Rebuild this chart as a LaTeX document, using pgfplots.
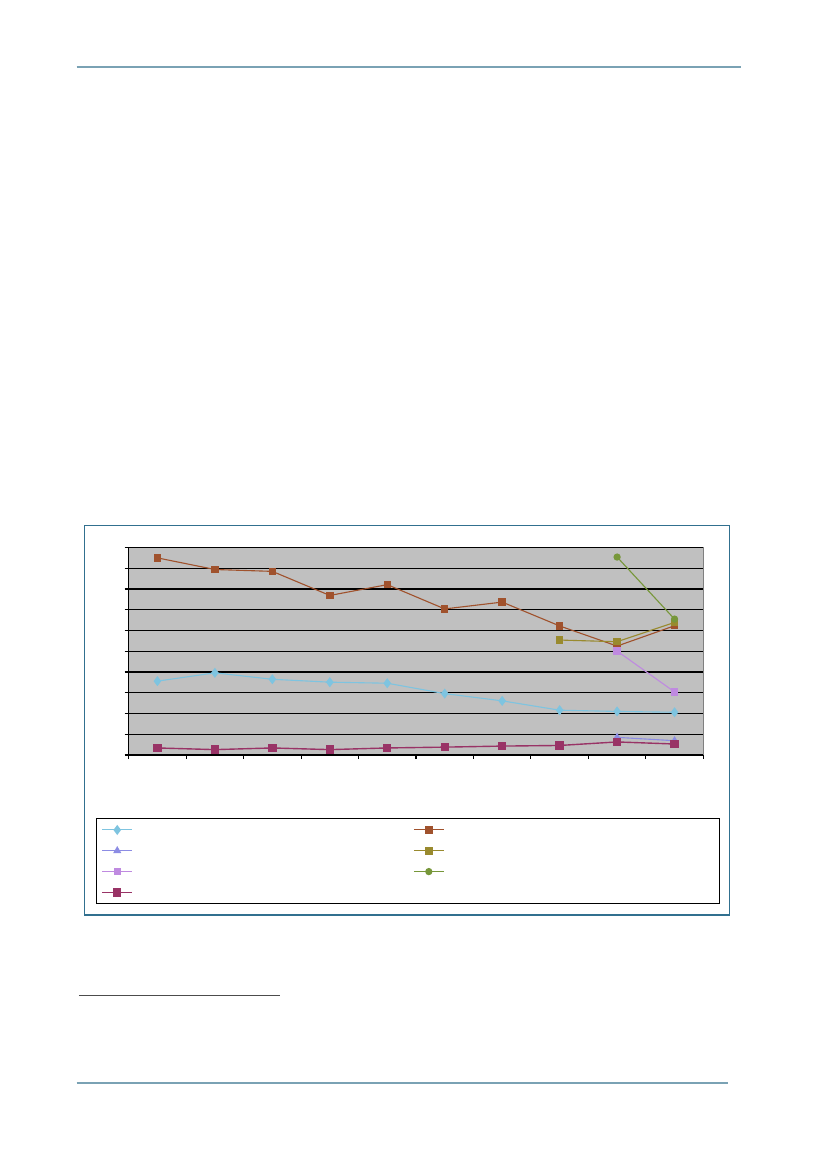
\documentclass[border=0pt]{standalone}
\usepackage{pgfplots}
\pgfplotsset{compat=1.18}
\definecolor{frameblue}{HTML}{31708F}
\definecolor{rulecol}{HTML}{7AA2B4}
\definecolor{plotgray}{HTML}{C0C0C0}
\definecolor{sblue}{HTML}{7EC4E0}
\definecolor{stri}{HTML}{8C8CE4}
\definecolor{slav}{HTML}{BF8AE0}
\definecolor{smaroon}{HTML}{993366}
\definecolor{sbrown}{HTML}{A0522D}
\definecolor{solive}{HTML}{998A2E}
\definecolor{sgreen}{HTML}{77973A}

\begin{document}
\begin{tikzpicture}[x=0.72pt,y=-0.72pt]
\useasboundingbox (0,0) rectangle (827,1169);
\fill[white] (0,0) rectangle (827,1169);
% page rules
\draw[rulecol, line width=1.3pt] (76.6,66.7) -- (741,66.7);
\draw[rulecol, line width=1.3pt] (76.6,1083) -- (728,1083);
\draw[black!70, line width=0.7pt] (78.8,995.7) -- (280,995.7);
% chart frame
\draw[frameblue, line width=0.8pt] (84.3,525.3) rectangle (729.7,915);
\coordinate (axSW) at (128.7,755);

\begin{axis}[
  at={(axSW)}, anchor=south west,
  scale only axis, width=413.7pt, height=149.4pt,
  xmin=0.5, xmax=10.5, ymin=0, ymax=10,
  axis x line*=bottom, axis y line*=left,
  axis line style={black, line width=0.75pt},
  axis background/.style={fill=plotgray, draw=gray, line width=0.75pt},
  xtick={0.5,1.5,...,10.5}, xticklabels={},
  ytick={0,1,...,10}, yticklabels={},
  tick align=outside, major tick length=3pt,
  tick style={black, line width=0.75pt},
  ymajorgrids, major grid style={black, line width=0.9pt},
  legend columns=2,
  legend cell align=left,
  legend style={at={(-0.0564,-0.305)}, anchor=north west,
    draw=black, line width=0.75pt, fill=white,
    inner xsep=3.4pt, inner ysep=0.5pt,
    nodes={inner sep=0pt, text height=7.5pt, text depth=7.5pt},
    row sep=0pt, column sep=0pt},
  legend image code/.code={\draw[mark repeat=2,mark phase=2,#1]
    plot coordinates {(0cm,0cm) (0.38cm,0cm) (0.76cm,0cm)};},
]

\addplot[color=sblue, line width=0.8pt, mark=diamond*, mark size=3pt] coordinates {
  (1,3.56) (2,3.96) (3,3.65) (4,3.51) (5,3.46)
  (6,2.96) (7,2.61) (8,2.16) (9,2.10) (10,2.06)
};
\addlegendentry{\hspace*{201.8pt}}

\addplot[color=sbrown, line width=0.8pt, mark=square*, mark size=2.3pt] coordinates {
  (1,9.50) (2,8.94) (3,8.85) (4,7.69) (5,8.21)
  (6,7.04) (7,7.37) (8,6.22) (9,5.25) (10,6.23)
};
\addlegendentry{\hspace*{194.7pt}}

\addplot[color=stri, line width=0.8pt, mark=triangle*, mark size=2.6pt] coordinates {
  (9,0.85) (10,0.69)
};
\addlegendentry{\hspace*{201.8pt}}

\addplot[color=solive, line width=0.8pt, mark=square*, mark size=2.3pt] coordinates {
  (8,5.54) (9,5.46) (10,6.39)
};
\addlegendentry{\hspace*{194.7pt}}

\addplot[color=slav, line width=0.8pt, mark=square*, mark size=2.3pt] coordinates {
  (9,5.01) (10,3.04)
};
\addlegendentry{\hspace*{201.8pt}}

\addplot[color=sgreen, line width=0.8pt, mark=*, mark size=2.2pt] coordinates {
  (9,9.54) (10,6.55)
};
\addlegendentry{\hspace*{194.7pt}}

\addplot[color=smaroon, line width=1pt, mark=square*, mark size=2.5pt] coordinates {
  (1,0.34) (2,0.26) (3,0.34) (4,0.26) (5,0.34)
  (6,0.38) (7,0.43) (8,0.46) (9,0.63) (10,0.53)
};
\addlegendentry{\hspace*{201.8pt}}

\end{axis}
\end{tikzpicture}
\end{document}
